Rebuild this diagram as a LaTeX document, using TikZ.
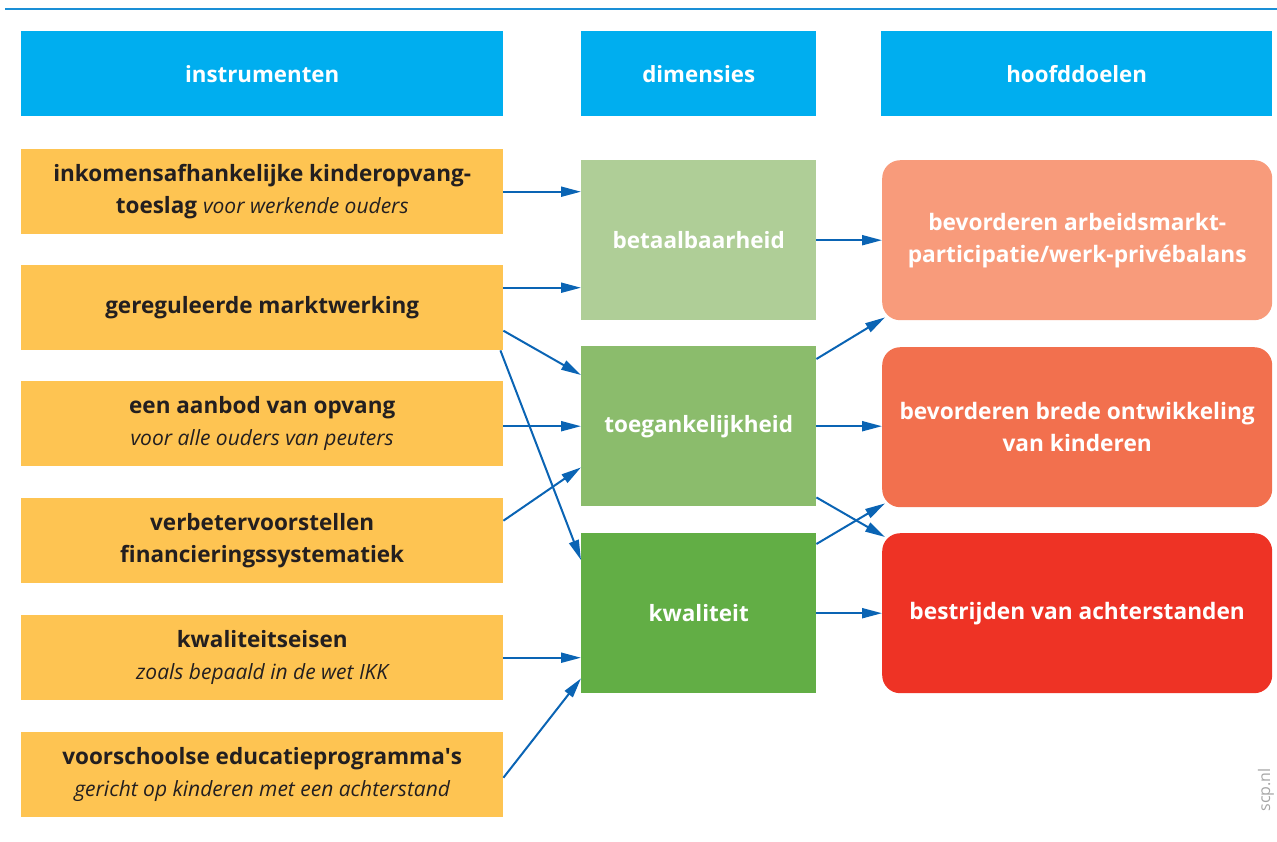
\documentclass[tikz,border=0pt]{standalone}
\usepackage{fontspec}
\setmainfont{Open Sans}
\usetikzlibrary{arrows.meta,positioning}
\definecolor{kopblauw}{HTML}{00AEEF}
\definecolor{lijnblauw}{HTML}{1A8FD6}
\definecolor{pijlblauw}{HTML}{0A64B4}
\definecolor{oranje}{HTML}{FEC452}
\definecolor{groen1}{HTML}{AFCE97}
\definecolor{groen2}{HTML}{8BBC6C}
\definecolor{groen3}{HTML}{62AE45}
\definecolor{doel1}{HTML}{F89B7B}
\definecolor{doel2}{HTML}{F2704E}
\definecolor{doel3}{HTML}{EE3325}
\definecolor{tekst}{HTML}{231F20}
\newcommand{\toel}[1]{{\fontsize{21}{32}\selectfont\mdseries\itshape #1}}
\begin{document}
\begin{tikzpicture}[x=1pt,y=-1pt,>={Triangle[length=20pt,width=10pt]}]
  \tikzset{box/.style={anchor=north west,inner sep=0pt,align=center},
    kop/.style={box,fill=kopblauw,text=white,minimum height=85,font=\fontsize{22.3}{26}\selectfont\bfseries},
    instr/.style={box,fill=oranje,text=tekst,minimum width=482,minimum height=85,font=\fontsize{22.5}{32}\selectfont\bfseries},
    dim/.style={box,text=white,minimum width=235,minimum height=160,font=\fontsize{22.5}{32}\selectfont\bfseries},
    doel/.style={box,text=white,rounded corners=18pt,minimum width=390,minimum height=160,font=\fontsize{22.7}{32}\selectfont\bfseries},
    pijl/.style={->,pijlblauw,line width=2pt}}
  \useasboundingbox (0,0) rectangle (1277,841);
  \draw[lijnblauw,line width=1.5pt] (5,9) -- (1277,9);
  % kopjes
  \node[kop,minimum width=482] (kop1) at (21,31) {instrumenten};
  \node[kop,minimum width=235] (kop2) at (581,31) {dimensies};
  \node[kop,minimum width=391] (kop3) at (881,31) {hoofddoelen};
  % instrumenten
  \node[instr] (in1) at (21,149) {inkomensafhankelijke kinderopvang-\\toeslag \toel{voor werkende ouders}};
  \node[instr] (in2) at (21,265) {gereguleerde marktwerking};
  \node[instr] (in3) at (21,381) {een aanbod van opvang\\\toel{voor alle ouders van peuters}};
  \node[instr] (in4) at (21,498) {verbetervoorstellen\\financieringssystematiek};
  \node[instr] (in5) at (21,615) {kwaliteitseisen\\\toel{zoals bepaald in de wet IKK}};
  \node[instr] (in6) at (21,732) {voorschoolse educatieprogramma\textquotesingle s\\\toel{gericht op kinderen met een achterstand}};
  % dimensies
  \node[dim,fill=groen1] (bet) at (581,160) {betaalbaarheid};
  \node[dim,fill=groen2] (toeg) at (581,346) {toegankelijkheid};
  \node[dim,fill=groen3] (kwal) at (581,533) {kwaliteit};
  % hoofddoelen
  \node[doel,fill=doel1] (arb) at (882,160) {bevorderen arbeidsmarkt-\\participatie/werk-privébalans};
  \node[doel,fill=doel2] (ontw) at (882,347) {bevorderen brede ontwikkeling\\van kinderen};
  \node[doel,fill=doel3] (acht) at (882,533) {bestrijden van achterstanden};
  % pijlen links
  \draw[pijl] (in1.east) -- (in1.east -| bet.west);
  \draw[pijl] ([yshift=20]in2.east) -- ([yshift=20]in2.east -| bet.west);
  \draw[pijl] ([yshift=-23]in2.east) -- ([yshift=-29]toeg.north west);
  \draw[pijl] ([xshift=-3]in2.south east) -- ([yshift=-27]kwal.north west);
  \draw[pijl] (toeg.west -| in3.east) -- (toeg.west);
  \draw[pijl] ([yshift=20]in4.east) -- ([yshift=39]toeg.south west);
  \draw[pijl] (in5.east) -- (in5.east -| kwal.west);
  \draw[pijl] ([yshift=-3]in6.east) -- ([yshift=15]kwal.south west);
  % pijlen rechts
  \draw[pijl] (bet.east) -- (bet.east -| arb.west);
  \draw[pijl] ([yshift=-13]toeg.north east) -- ([xshift=3,yshift=3]arb.south west);
  \draw[pijl] (toeg.east) -- (toeg.east -| ontw.west);
  \draw[pijl] ([yshift=9]toeg.south east) -- ([xshift=3,yshift=-4]acht.north west);
  \draw[pijl] ([yshift=-11]kwal.north east) -- ([xshift=3,yshift=4]ontw.south west);
  \draw[pijl] (kwal.east) -- (kwal.east -| acht.west);
  \node[rotate=90,text=gray!70,font=\fontsize{16}{16}\selectfont,inner sep=0pt] (bron) at (1266,790) {scp.nl};
\end{tikzpicture}
\end{document}
